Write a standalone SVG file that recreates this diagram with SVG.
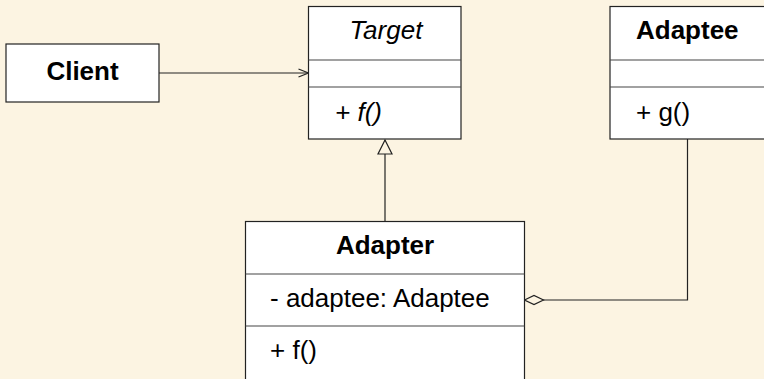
<svg xmlns="http://www.w3.org/2000/svg" width="764" height="379" viewBox="0 0 764 379">
  <defs>
    <style>
      .box { fill: #ffffff; stroke: #222222; stroke-width: 1.2; }
      .sep { stroke: #444444; stroke-width: 1.2; }
      .edge { fill: none; stroke: #222222; stroke-width: 1.2; }
      text { font-family: "Liberation Sans", Arial, Helvetica, sans-serif; font-size: 26px; fill: #000000; }
      .title { font-weight: bold; text-anchor: middle; }
      .abstract { font-style: italic; }
    </style>
    <marker id="open-arrow" markerWidth="14" markerHeight="12" refX="11" refY="5" orient="auto" markerUnits="userSpaceOnUse">
      <path d="M1,1 L11,5 L1,9" fill="none" stroke="#222222" stroke-width="1.2"/>
    </marker>
    <marker id="hollow-triangle" markerWidth="18" markerHeight="18" refX="8" refY="1" orient="0" markerUnits="userSpaceOnUse">
      <path d="M8,1 L15,15 L1,15 Z" fill="#fcf4e2" stroke="#222222" stroke-width="1.2"/>
    </marker>
    <marker id="hollow-diamond" markerWidth="24" markerHeight="12" refX="1" refY="6" orient="0" markerUnits="userSpaceOnUse">
      <path d="M1,6 L10.5,1.5 L20,6 L10.5,10.5 Z" fill="#fcf4e2" stroke="#222222" stroke-width="1.2"/>
    </marker>
  </defs>

  <rect width="764" height="379" fill="#fcf4e2"/>

  <g id="connectors">
    <line class="edge" x1="159" y1="73" x2="308.5" y2="73" marker-end="url(#open-arrow)"/>
    <line class="edge" x1="385" y1="221.5" x2="385" y2="140" marker-end="url(#hollow-triangle)"/>
    <polyline class="edge" points="524.5,300 687.5,300 687.5,139" marker-start="url(#hollow-diamond)"/>
  </g>

  <g id="client">
    <rect class="box" x="6" y="44" width="153" height="58"/>
    <text class="title" x="82.5" y="80">Client</text>
  </g>

  <g id="target">
    <rect class="box" x="308.5" y="6.5" width="152.5" height="132.5"/>
    <line class="sep" x1="308.5" y1="60" x2="461" y2="60"/>
    <line class="sep" x1="308.5" y1="87" x2="461" y2="87"/>
    <text class="abstract" x="386" y="39" text-anchor="middle">Target</text>
    <text class="abstract" x="335" y="121">+ f()</text>
  </g>

  <g id="adaptee">
    <rect class="box" x="610" y="6.5" width="170" height="132.5"/>
    <line class="sep" x1="610" y1="60" x2="764" y2="60"/>
    <line class="sep" x1="610" y1="87" x2="764" y2="87"/>
    <text x="636" y="39" font-weight="bold">Adaptee</text>
    <text x="636" y="121">+ g()</text>
  </g>

  <g id="adapter">
    <rect class="box" x="245.5" y="221.5" width="279" height="170"/>
    <line class="sep" x1="245.5" y1="274" x2="524.5" y2="274"/>
    <line class="sep" x1="245.5" y1="326" x2="524.5" y2="326"/>
    <text class="title" x="385" y="254">Adapter</text>
    <text x="270" y="307">- adaptee: Adaptee</text>
    <text x="270" y="359">+ f()</text>
  </g>
</svg>
